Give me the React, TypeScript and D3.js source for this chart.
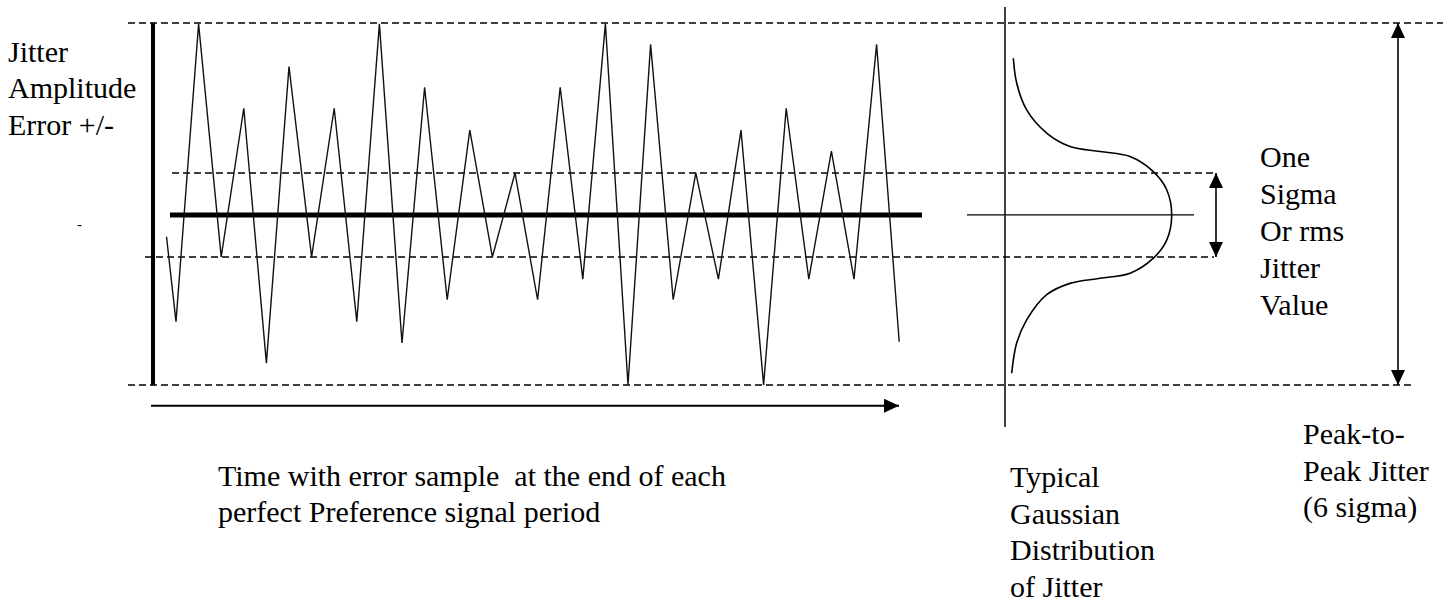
import React, { useEffect, useRef } from 'react';
import * as d3 from 'd3';

// Jitter error at the end of each reference period, in sigma units (0 = ideal edge)
const samplePeriods = [-0.42, 0, 1, 2, 3, 4, 5, 6, 7, 8, 9, 10, 11, 12, 13, 14, 15, 16,
  17, 18, 19, 20, 21, 22, 23, 24, 25, 26, 27, 28, 29, 30, 31, 32];
const jitterErrors = [-0.52, -2.54, 4.55, -1, 2.54, -3.53, 3.53, -1, 2.54, -2.54, 4.55,
  -3.05, 3.04, -2.02, 2.02, -1, 1, -2.02, 3.04, -1.53, 4.55, -4.05, 4.06, -2.02, 1,
  -1.53, 2.02, -4.05, 2.54, -1.53, 1.52, -1.53, 4.06, -3.02];

// amplitude levels: positive peak, +1 sigma, -1 sigma, negative peak
const peakHigh = 4.57;
const peakLow = -4.05;
const sigmaLevels = [1, -1];

// hand-read outline of the Gaussian: relative density vs amplitude (sigma units)
const gaussDensity = [0.05, 0.07, 0.13, 0.25, 0.39, 0.57, 0.75, 0.89, 0.97, 1,
  0.97, 0.89, 0.75, 0.57, 0.39, 0.25, 0.13, 0.07, 0.04];
const gaussAmplitude = [3.73, 3.14, 2.5, 1.95, 1.63, 1.51, 1.39, 1.03, 0.6, 0,
  -0.6, -1.03, -1.39, -1.51, -1.63, -1.9, -2.5, -3.05, -3.77];

const yAxisLabel = ['Jitter', 'Amplitude', 'Error +/-'];
const timeLabel = ['Time with error sample \u00a0at the end of each', 'perfect Preference signal period'];
const sigmaLabel = ['One', 'Sigma', 'Or rms', 'Jitter', 'Value'];
const gaussLabel = ['Typical', 'Gaussian', 'Distribution', 'of Jitter'];
const peakLabel = ['Peak-to-', 'Peak Jitter', '(6 sigma)'];

const W = 1456;
const H = 604;
const FONT = 'Times New Roman';

const TextBlock: React.FC<{ lines: string[]; x: number; y: number; step: number }> = ({ lines, x, y, step }) => (
  <>
    {lines.map((t, i) => (
      <text
        key={i}
        x={x}
        y={y + i * step}
        fontFamily={FONT}
        fontSize={30}
        style={{ fontFamily: `"${FONT}"`, fontSize: '30px' }}
      >
        {t}
      </text>
    ))}
  </>
);

const JitterChart: React.FC = () => {
  const ref = useRef<SVGGElement>(null);

  useEffect(() => {
    if (!ref.current) return;
    const g = d3.select(ref.current);
    g.selectAll('*').remove();

    const x = d3.scaleLinear().domain([0, 32]).range([176, 899.2]);
    const y = d3.scaleLinear().domain([peakLow, peakHigh]).range([385, 23]);
    const dens = d3.scaleLinear().domain([0, 1]).range([1005, 1171.7]);

    const defs = g.append('defs');
    defs.append('marker')
      .attr('id', 'head')
      .attr('viewBox', '0 0 15 14')
      .attr('refX', 15)
      .attr('refY', 7)
      .attr('markerWidth', 15)
      .attr('markerHeight', 14)
      .attr('markerUnits', 'userSpaceOnUse')
      .attr('orient', 'auto-start-reverse')
      .append('path')
      .attr('d', 'M0,0 L15,7 L0,14 Z')
      .attr('fill', '#000');

    // dashed reference lines
    const dashed = [
      { v: peakHigh, x1: 128, x2: 1443 },
      { v: sigmaLevels[0], x1: 172, x2: 1217 },
      { v: sigmaLevels[1], x1: 145, x2: 1214 },
      { v: peakLow, x1: 128, x2: 1415 },
    ];
    g.append('g')
      .selectAll('line')
      .data(dashed)
      .join('line')
      .attr('x1', d => d.x1)
      .attr('x2', d => d.x2)
      .attr('y1', d => y(d.v))
      .attr('y2', d => y(d.v))
      .attr('stroke', '#000')
      .attr('stroke-width', 1.5)
      .attr('stroke-dasharray', '7,4');

    // thick amplitude bar
    g.append('line')
      .attr('x1', 153).attr('x2', 153)
      .attr('y1', y(peakHigh)).attr('y2', y(peakLow))
      .attr('stroke', '#000').attr('stroke-width', 4);

    // zero line
    g.append('line')
      .attr('x1', 170).attr('x2', 922)
      .attr('y1', y(0)).attr('y2', y(0))
      .attr('stroke', '#000').attr('stroke-width', 5);

    // zigzag jitter trace
    const line = d3.line<number>()
      .x((_, i) => x(samplePeriods[i]))
      .y(d => y(d));
    g.append('path')
      .datum(jitterErrors)
      .attr('d', line)
      .attr('fill', 'none')
      .attr('stroke', '#111')
      .attr('stroke-width', 1.4)
      .attr('stroke-linejoin', 'miter');

    // time arrow
    g.append('line')
      .attr('x1', 151).attr('x2', 899)
      .attr('y1', 405.7).attr('y2', 405.7)
      .attr('stroke', '#000').attr('stroke-width', 2)
      .attr('marker-end', 'url(#head)');

    // gaussian axes
    g.append('line')
      .attr('x1', dens(0)).attr('x2', dens(0))
      .attr('y1', 7).attr('y2', 427)
      .attr('stroke', '#000').attr('stroke-width', 1.5);
    g.append('line')
      .attr('x1', 967).attr('x2', 1194)
      .attr('y1', y(0)).attr('y2', y(0))
      .attr('stroke', '#000').attr('stroke-width', 1.3);

    const gauss = d3.line<number>()
      .x(d => dens(d))
      .y((_, i) => y(gaussAmplitude[i]))
      .curve(d3.curveCatmullRom.alpha(0.5));
    g.append('path')
      .datum(gaussDensity)
      .attr('d', gauss)
      .attr('fill', 'none')
      .attr('stroke', '#000')
      .attr('stroke-width', 1.6);

    // one sigma arrow and peak-to-peak arrow
    g.append('line')
      .attr('x1', 1216).attr('x2', 1216)
      .attr('y1', y(sigmaLevels[0])).attr('y2', y(sigmaLevels[1]))
      .attr('stroke', '#000').attr('stroke-width', 1.6)
      .attr('marker-start', 'url(#head)')
      .attr('marker-end', 'url(#head)');
    g.append('line')
      .attr('x1', 1398).attr('x2', 1398)
      .attr('y1', y(peakHigh)).attr('y2', y(peakLow))
      .attr('stroke', '#000').attr('stroke-width', 1.6)
      .attr('marker-start', 'url(#head)')
      .attr('marker-end', 'url(#head)');
  }, []);

  return (
    <svg
      width={W}
      height={H}
      fontFamily={FONT}
      style={{ position: 'absolute', left: 0, top: 0, background: '#fff' }}
    >
      <g ref={ref} />
      <TextBlock lines={yAxisLabel} x={8} y={61.5} step={36.6} />
      <TextBlock lines={timeLabel} x={218} y={485.7} step={36.5} />
      <TextBlock lines={sigmaLabel} x={1260} y={167} step={37} />
      <TextBlock lines={gaussLabel} x={1010} y={487} step={36.7} />
      <TextBlock lines={peakLabel} x={1303} y={444} step={36.5} />
      <text x={77} y={229} fontFamily={FONT} fontSize={15}>-</text>
    </svg>
  );
};

export default function App() {
  return <JitterChart />;
}
